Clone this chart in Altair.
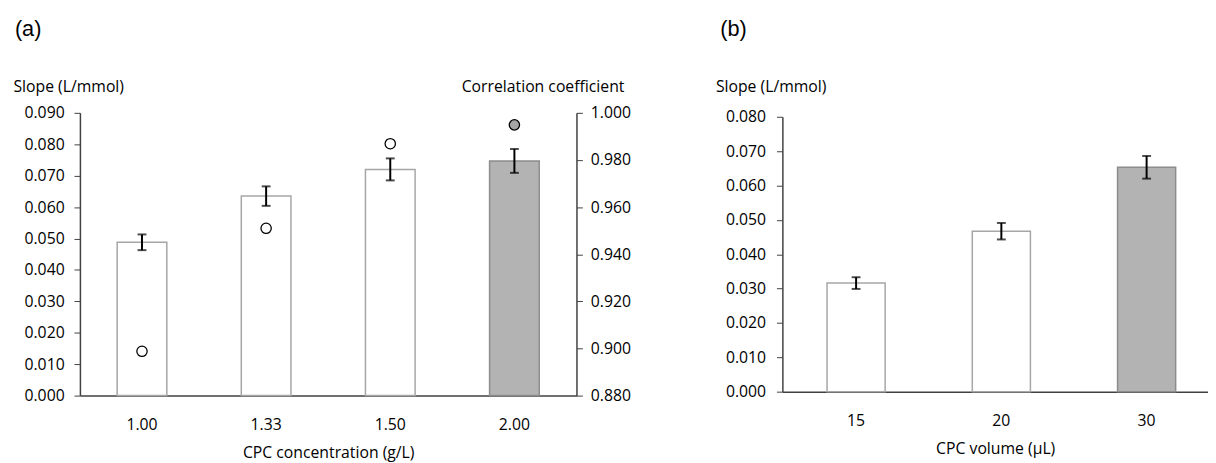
import altair as alt
import pandas as pd

# ---------------- data ----------------
conc = ["1.00", "1.33", "1.50", "2.00"]
slope_a = [0.0488, 0.0635, 0.0720, 0.0747]
err_a = [0.0025, 0.0031, 0.0035, 0.0038]
corr_a = [0.8988, 0.9510, 0.9869, 0.9949]
yticks_a = [0.000, 0.010, 0.020, 0.030, 0.040, 0.050, 0.060, 0.070, 0.080, 0.090]
rticks_a = [0.880, 0.900, 0.920, 0.940, 0.960, 0.980, 1.000]

vol = ["15", "20", "30"]
slope_b = [0.0316, 0.0467, 0.0653]
err_b = [0.0017, 0.0024, 0.0033]
yticks_b = [0.000, 0.010, 0.020, 0.030, 0.040, 0.050, 0.060, 0.070, 0.080]

dfa = pd.DataFrame({"cat": conc, "slope": slope_a, "err": err_a, "corr": corr_a})
dfa["lo"] = dfa["slope"] - dfa["err"]
dfa["hi"] = dfa["slope"] + dfa["err"]
dfb = pd.DataFrame({"cat": vol, "slope": slope_b, "err": err_b})
dfb["lo"] = dfb["slope"] - dfb["err"]
dfb["hi"] = dfb["slope"] + dfb["err"]

FONT = "Open Sans"
AX = "#404040"
GREY = "#b3b3b3"


def x_enc(cats, title, pin, pout, align=0.5):
    return alt.X("cat:N", sort=cats, title=title,
                 scale=alt.Scale(paddingInner=pin, paddingOuter=pout, align=align),
                 axis=alt.Axis(labelAngle=0, ticks=False, labelPadding=21,
                               titlePadding=13, domainColor=AX, domainWidth=1.5))


def y_enc(field, domain, ticks, pad, rng=None):
    sc = alt.Scale(domain=domain, nice=False) if rng is None else \
        alt.Scale(domain=domain, nice=False, range=rng)
    return alt.Y(field, title="Slope (L/mmol)", scale=sc,
                 axis=alt.Axis(values=ticks, format=".3f", grid=False, tickSize=6,
                               tickColor=AX, domainColor=AX, domainWidth=1.5,
                               labelPadding=pad, titleAngle=0, titleAlign="left",
                               titleBaseline="alphabetic", titleX=-68, titleY=-22))


def bar_panel(df, cats, last, xtitle, domain, ticks, pin, pout, align, pad, rng=None):
    x = x_enc(cats, xtitle, pin, pout, align)
    bars = alt.Chart(df).mark_bar(strokeWidth=1.5).encode(
        x=x,
        y=y_enc("slope:Q", domain, ticks, pad, rng),
        fill=alt.condition(alt.datum.cat == last, alt.value(GREY), alt.value("white")),
        stroke=alt.condition(alt.datum.cat == last, alt.value("#8c8c8c"), alt.value("#a6a6a6")),
    )
    rule = alt.Chart(df).mark_rule(color="black", strokeWidth=2).encode(
        x=x, y=y_enc("lo:Q", domain, ticks, pad, rng), y2="hi:Q")
    cap_lo = alt.Chart(df).mark_tick(color="black", thickness=2, size=9).encode(
        x=x, y=y_enc("lo:Q", domain, ticks, pad, rng))
    cap_hi = alt.Chart(df).mark_tick(color="black", thickness=2, size=9).encode(
        x=x, y=y_enc("hi:Q", domain, ticks, pad, rng))
    return alt.layer(bars, rule, cap_lo, cap_hi), x


left_a, xa = bar_panel(dfa, conc, "2.00", "CPC concentration (g/L)", [0, 0.09], yticks_a,
                       0.6, 0.3, 0.5, 10)
pts = alt.Chart(dfa).mark_circle(size=110, stroke="black", strokeWidth=1.3, opacity=1).encode(
    x=xa,
    y=alt.Y("corr:Q", title="Correlation coefficient",
            scale=alt.Scale(domain=[0.88, 1.0], nice=False, zero=False),
            axis=alt.Axis(orient="right", values=rticks_a, format=".3f", grid=False,
                          tickSize=6, tickColor=AX, domainColor=AX, domainWidth=1.5,
                          labelPadding=8, titleAngle=0, titleAlign="left",
                          titleBaseline="alphabetic", titleX=-117, titleY=-22)),
    fill=alt.condition(alt.datum.cat == "2.00", alt.value("#a6a6a6"), alt.value("white")),
)
panel_a = alt.layer(left_a, pts).resolve_scale(y="independent").properties(
    width=504, height=287,
    title=alt.TitleParams("(a)", anchor="start", frame="bounds", fontSize=22,
                          font="Liberation Sans", fontWeight="normal", offset=38, dx=2),
)

left_b, xb = bar_panel(dfb, vol, "30", "CPC volume (µL)", [0, 0.08], yticks_b,
                       0.6, 0.265, 0.58, 11, rng=[283, 4])
panel_b = left_b.properties(
    width=432, height=283,
    title=alt.TitleParams("(b)", anchor="start", frame="bounds", fontSize=22,
                          font="Liberation Sans", fontWeight="normal", offset=38, dx=5),
)

chart = alt.hconcat(panel_a, panel_b, spacing=86).properties(
    padding={"left": 5, "top": 7, "right": 0, "bottom": 0}
).configure_view(stroke=None).configure_axis(
    labelFont=FONT, labelFontSize=16, labelColor="#000",
    titleFont=FONT, titleFontSize=16, titleFontWeight="normal", titleColor="#000",
)

chart.save("out.html", embed_options={"renderer": "svg", "actions": False})
